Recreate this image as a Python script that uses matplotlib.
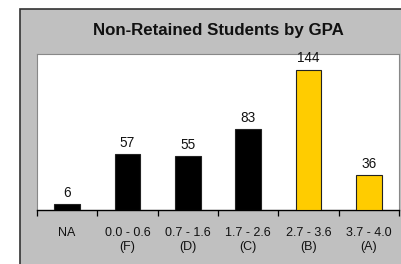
import matplotlib
matplotlib.use("Agg")
import matplotlib.pyplot as plt
from matplotlib.patches import Rectangle

categories = ["NA", "0.0 - 0.6\n(F)", "0.7 - 1.6\n(D)", "1.7 - 2.6\n(C)", "2.7 - 3.6\n(B)", "3.7 - 4.0\n(A)"]
values = [6, 57, 55, 83, 144, 36]
colors = ["#000000", "#000000", "#000000", "#000000", "#FFCC00", "#FFCC00"]
title = "Non-Retained Students by GPA"

plt.rcParams['font.family'] = ['Liberation Sans', 'DejaVu Sans']

W, H = 402, 264
fig = plt.figure(figsize=(W / 100, H / 100), dpi=100)
fig.patch.set_facecolor("white")

# gray chart area with dark border
fig.patches.append(Rectangle((20 / W, -0.05), 1.1, (264 - 9) / H + 0.05,
                             transform=fig.transFigure, facecolor="#C0C0C0",
                             edgecolor="#333333", linewidth=1.2, zorder=-10))

ax = fig.add_axes([37 / W, (264 - 210) / H, (399 - 37) / W, (210 - 54) / H])
ax.set_zorder(1)
ax.set_facecolor("white")
x = list(range(len(categories)))
bars = ax.bar(x, values, width=0.43, color=colors, edgecolor="#222222", linewidth=0.8, zorder=3)
ax.set_xlim(-0.5, len(categories) - 0.5)
ax.set_ylim(0, 160)

for xi, v in zip(x, values):
    ax.annotate(str(v), (xi, v), xytext=(0, 3), textcoords="offset points",
                ha="center", va="bottom", fontsize=9.8, color="#111111")

ax.set_xticks(x)
ax.set_xticklabels(categories, fontsize=9, linespacing=1.3, color="#111111")
ax.tick_params(axis="x", which="major", length=0, pad=12)
ax.set_xticks([i - 0.5 for i in range(len(categories) + 1)], minor=True)
ax.tick_params(axis="x", which="minor", length=4, width=0.9, direction="out", color="black")
ax.set_yticks([])

for s in ["top", "right", "left"]:
    ax.spines[s].set_color("#888888")
    ax.spines[s].set_linewidth(0.8)
ax.spines["bottom"].set_color("black")
ax.spines["bottom"].set_linewidth(1.0)

fig.text(218 / W, 1 - 30 / H, title, ha="center", va="center",
         fontsize=12.2, fontweight="bold", color="#111111")

fig.savefig("out.png", dpi=100, facecolor=fig.get_facecolor())
